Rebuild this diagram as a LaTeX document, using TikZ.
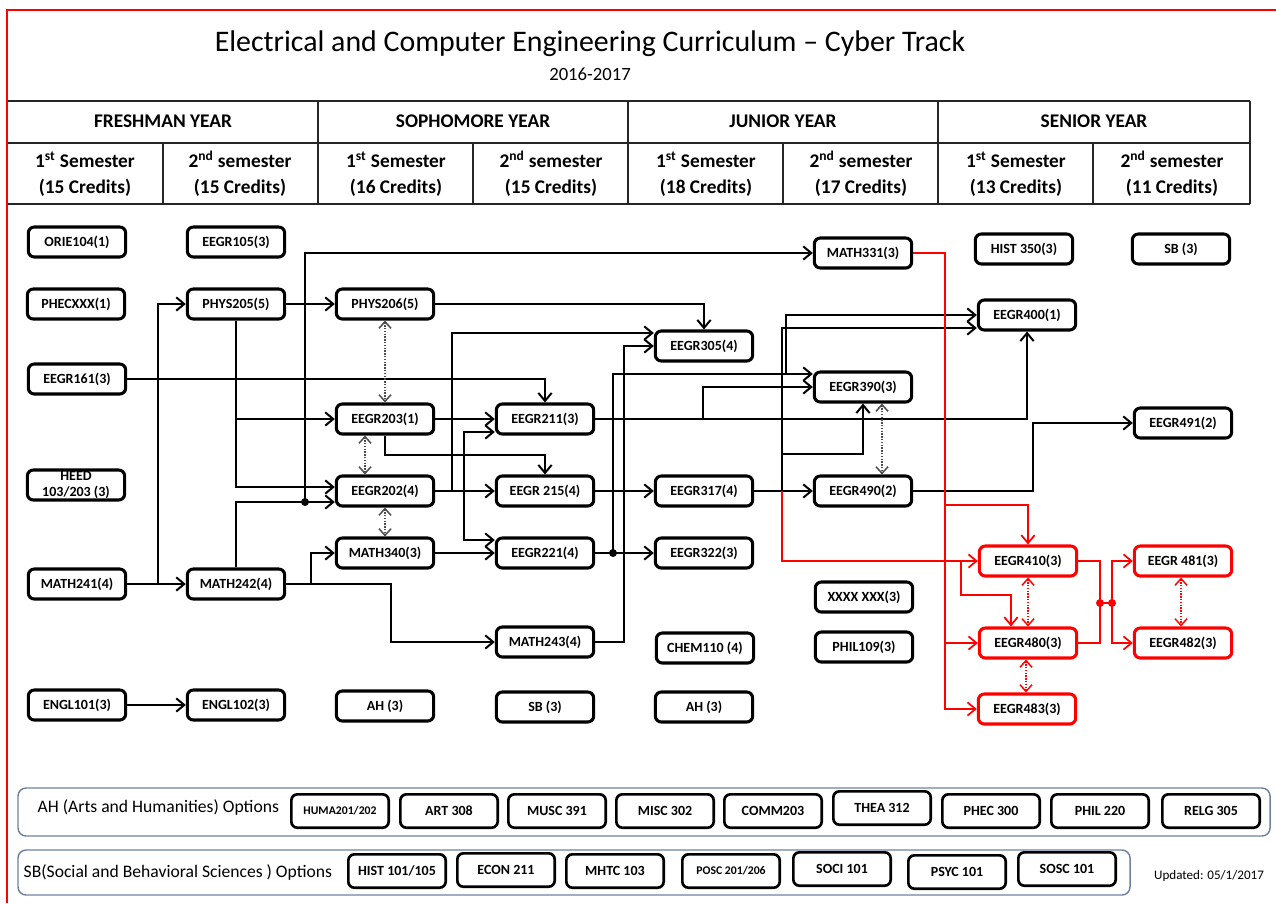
\documentclass[tikz,border=0pt]{standalone}
\usepackage{fontspec}
\setmainfont{Carlito}
\newfontfamily\bxfont{Carlito}
\usetikzlibrary{arrows.meta,calc}
\begin{document}
\begin{tikzpicture}[x=0.75pt,y=-0.75pt,
  course/.style={draw=black, line width=2.3pt, rounded corners=4.5pt, minimum width=73pt, minimum height=22.5pt, inner sep=0pt, fill=white, font=\bxfont\bfseries\fontsize{10.5}{11}\selectfont},
  redcourse/.style={course, draw=red},
  optbox/.style={draw=black, line width=2pt, rounded corners=4.5pt, minimum width=73pt, minimum height=25pt, inner sep=0pt, fill=white, font=\bxfont\bfseries\fontsize{10.5}{11}\selectfont},
  conn/.style={line width=1.5pt, -{Straight Barb[length=6pt,width=10pt]}},
  rconn/.style={conn, draw=red, line width=1.3pt},
  rline/.style={draw=red, line width=1.3pt},
  coreq/.style={densely dotted, line width=1.1pt, draw=black!70, {Straight Barb[length=5pt,width=9pt]}-{Straight Barb[length=5pt,width=9pt]}},
  rcoreq/.style={coreq, draw=red},
  jdot/.style={circle, fill=black, inner sep=0pt, minimum size=6pt},
  rdot/.style={jdot, fill=red},
  tbl/.style={line width=1.3pt, draw=black!85},
  hdr/.style={font=\bfseries\fontsize{14.5}{19.5}\selectfont, align=center},
  optlabel/.style={font=\fontsize{13.2}{15}\selectfont, anchor=west},
  optframe/.style={draw={rgb,255:red,110;green,130;blue,160}, line width=1.1pt, rounded corners=6pt}
]
\useasboundingbox (0,0) rectangle (1276,903);
% red frame
\draw[red, line width=1pt] (7,903) -- (7,10) -- (1276,10);
% title
\node[font=\fontsize{22.4}{26}\selectfont] (title) at (590,44) {Electrical and Computer Engineering Curriculum – Cyber Track};
\node[font=\fontsize{14}{16}\selectfont] (year) at (590,74) {2016-2017};
% table
\draw[tbl] (8,101) -- (1250,101);
\draw[tbl] (8,143) -- (1250,143);
\draw[tbl] (8,204) -- (1250,204);
\foreach \x in {318,628,938,1250} \draw[tbl] (\x,101) -- (\x,204);
\foreach \x in {163,473,783,1093} \draw[tbl] (\x,143) -- (\x,204);
\node[hdr] (fy) at (163,121) {FRESHMAN YEAR};
\node[hdr] (soy) at (473,121) {SOPHOMORE YEAR};
\node[hdr] (jy) at (783,121) {JUNIOR YEAR};
\node[hdr] (sey) at (1094,121) {SENIOR YEAR};
\node[hdr] (s1) at (85,174) {1\textsuperscript{st} Semester\\(15 Credits)};
\node[hdr] (s2) at (240,174) {2\textsuperscript{nd} semester\\(15 Credits)};
\node[hdr] (s3) at (396,174) {1\textsuperscript{st} Semester\\(16 Credits)};
\node[hdr] (s4) at (551,174) {2\textsuperscript{nd} semester\\(15 Credits)};
\node[hdr] (s5) at (706,174) {1\textsuperscript{st} Semester\\(18 Credits)};
\node[hdr] (s6) at (861,174) {2\textsuperscript{nd} semester\\(17 Credits)};
\node[hdr] (s7) at (1016,174) {1\textsuperscript{st} Semester\\(13 Credits)};
\node[hdr] (s8) at (1172,174) {2\textsuperscript{nd} semester\\(11 Credits)};

% courses
\node[course] (ORIE104) at (77,242) {ORIE104(1)};
\node[course] (PHECXXX) at (76,304) {PHECXXX(1)};
\node[course] (EEGR161) at (77,379) {EEGR161(3)};
\node[course, align=center, font=\bxfont\bfseries\fontsize{10.5}{12}\selectfont] (HEED) at (76,485) {HEED\\103/203 (3)};
\node[course] (MATH241) at (77,584) {MATH241(4)};
\node[course] (ENGL101) at (77,705) {ENGL101(3)};

\node[course] (EEGR105) at (236,242) {EEGR105(3)};
\node[course] (PHYS205) at (236,304) {PHYS205(5)};
\node[course] (MATH242) at (236,584) {MATH242(4)};
\node[course] (ENGL102) at (236,705) {ENGL102(3)};

\node[course] (PHYS206) at (385,304) {PHYS206(5)};
\node[course] (EEGR203) at (385,419) {EEGR203(1)};
\node[course] (EEGR202) at (385,491) {EEGR202(4)};
\node[course] (MATH340) at (385,553) {MATH340(3)};
\node[course] (AHa) at (385,706) {AH (3)};

\node[course] (EEGR211) at (545,419) {EEGR211(3)};
\node[course] (EEGR215) at (545,491) {EEGR 215(4)};
\node[course] (EEGR221) at (545,553) {EEGR221(4)};
\node[course] (MATH243) at (545,642) {MATH243(4)};
\node[course] (SBa) at (545,707) {SB (3)};

\node[course] (EEGR305) at (704,346) {EEGR305(4)};
\node[course] (EEGR317) at (704,491) {EEGR317(4)};
\node[course] (EEGR322) at (704,553) {EEGR322(3)};
\node[course] (CHEM110) at (705,648) {CHEM110 (4)};
\node[course] (AHb) at (704,707) {AH (3)};

\node[course] (MATH331) at (863,253) {MATH331(3)};
\node[course] (EEGR390) at (863,387) {EEGR390(3)};
\node[course] (EEGR490) at (863,491) {EEGR490(2)};
\node[course] (XXXX) at (864,597) {XXXX XXX(3)};
\node[course] (PHIL109) at (864,647) {PHIL109(3)};

\node[course] (HIST350) at (1024,249) {HIST 350(3)};
\node[course] (EEGR400) at (1027,315) {EEGR400(1)};
\node[redcourse] (EEGR410) at (1028,561) {EEGR410(3)};
\node[redcourse] (EEGR480) at (1028,643) {EEGR480(3)};
\node[redcourse] (EEGR483) at (1027,709) {EEGR483(3)};

\node[course] (SBb) at (1181,249) {SB (3)};
\node[course] (EEGR491) at (1183,423) {EEGR491(2)};
\node[redcourse] (EEGR481) at (1183,561) {EEGR 481(3)};
\node[redcourse] (EEGR482) at (1183,643) {EEGR482(3)};

% ---------- black connectors ----------
\draw[conn] (MATH241.east) -- (MATH242.west);
\coordinate (j1) at (158,584);
\draw[conn] (j1) |- (PHYS205.west);
\draw[conn] (PHYS205.east) -- (PHYS206.west);
\draw[conn] (PHYS205.south) |- (EEGR203.west);
\draw[conn] (PHYS205.south) |- ($(EEGR202.west)+(0,-4)$);
\draw[conn] (MATH242.north) |- ($(EEGR202.west)+(0,11)$);
\coordinate (d1) at (305,502);
\draw[conn] (d1) |- (MATH331.west);
\node[jdot] (dot1) at (d1) {};
\coordinate (j2) at (311,584);
\draw[conn] (MATH242.east) -- (j2) |- (MATH340.west);
\draw[conn] (j2) -- (391,584) |- (MATH243.west);
\draw[conn] (ENGL101.east) -- (ENGL102.west);
\draw[conn] (EEGR161.east) -| (EEGR211.north);
\draw[conn] (EEGR203.east) -- (EEGR211.west);
\draw[conn] (EEGR203.south) -- ++(0,19) -| (EEGR215.north);
\draw[conn] (PHYS206.east) -| (EEGR305.north);
\draw[conn] (EEGR202.east) -- (EEGR215.west);
\coordinate (j3) at (452,491);
\coordinate (j4) at (464,491);
\draw[conn] (j3) |- ($(EEGR305.west)+(0,-13)$);
\draw[conn] (j4) |- ($(EEGR211.west)+(0,13)$);
\draw[conn] (j4) |- ($(EEGR221.west)+(0,-13)$);
\draw[conn] (MATH340.east) -- (EEGR221.west);
\draw[conn] (EEGR221.east) -- (EEGR322.west);
\coordinate (d2) at (613,553);
\draw[conn] (d2) |- ($(EEGR390.west)+(0,-13)$);
\node[jdot] (dot2) at (d2) {};
\coordinate (j5) at (786,374);
\draw[conn] (j5) |- (EEGR400.west);
\draw[conn] (MATH243.east) -- (624,642) |- (EEGR305.west);
\draw[conn] (EEGR211.east) -| (EEGR400.south);
\coordinate (j6) at (703,419);
\draw[conn] (j6) |- (EEGR390.west);
\draw[conn] (EEGR215.east) -- (EEGR317.west);
\draw[conn] (EEGR317.east) -- (EEGR490.west);
\coordinate (j7) at (782,491);
\draw[conn] (j7) |- ($(EEGR400.west)+(0,13)$);
\draw[conn] (782,454) -| (EEGR390.south);
\draw[conn] (EEGR490.east) -- (1033,491) |- (EEGR491.west);

% co-requisites
\draw[coreq] (PHYS206.south) -- (EEGR203.north);
\draw[coreq] ($(EEGR203.south)+(-20,0)$) -- ($(EEGR202.north)+(-20,0)$);
\draw[coreq] (EEGR202.south) -- (MATH340.north);
\draw[coreq] ($(EEGR390.south)+(19,0)$) -- ($(EEGR490.north)+(19,0)$);

% ---------- red connectors ----------
\coordinate (r1) at (945,505);
\draw[rline] (MATH331.east) -- (945,253) -- (r1);
\draw[rconn] (r1) -| (EEGR410.north);
\draw[rconn] (r1) |- (EEGR480.west);
\draw[rconn] (r1) |- (EEGR483.west);
\draw[rconn] (j7) |- (EEGR410.west);
\draw[rconn] (961,561) -- (961,595) -| ($(EEGR480.north)+(-17,0)$);
\coordinate (r2) at (1100,603);
\coordinate (r3) at (1112,603);
\draw[rline] (EEGR410.east) -| (r2);
\draw[rline] (EEGR480.east) -| (r2);
\draw[rline] (r2) -- (r3);
\draw[rconn] (r3) |- (EEGR481.west);
\draw[rconn] (r3) |- (EEGR482.west);
\node[rdot] (dot3) at (r2) {};
\node[rdot] (dot4) at (r3) {};
\draw[rcoreq] (EEGR410.south) -- (EEGR480.north);
\draw[rcoreq] ($(EEGR480.south)+(-2,0)$) -- ($(EEGR483.north)+(-1,0)$);
\draw[rcoreq] ($(EEGR481.south)+(-2,0)$) -- ($(EEGR482.north)+(-2,0)$);

% ---------- options ----------
\draw[optframe] (18,788) rectangle (1270,836);
\node[optlabel] (ahlabel) at (33,807) {AH (Arts and Humanities) Options};
\node[optbox, font=\bxfont\bfseries\fontsize{8.8}{10}\selectfont] (HUMA) at (340,811) {HUMA201/202};
\node[optbox] (ART) at (449,811) {ART 308};
\node[optbox] (MUSC) at (557,811) {MUSC 391};
\node[optbox] (MISC) at (665,811) {MISC 302};
\node[optbox] (COMM) at (773,811) {COMM203};
\node[optbox] (THEA) at (882,808) {THEA 312};
\node[optbox] (PHEC) at (991,811) {PHEC 300};
\node[optbox] (PHIL) at (1100,811) {PHIL 220};
\node[optbox] (RELG) at (1211,811) {RELG 305};

\draw[optframe] (18,850) rectangle (1130,895);
\node[optlabel] (sblabel) at (19,872) {SB(Social and Behavioral Sciences ) Options};
\node[optbox] (HIST) at (397,871) {HIST 101/105};
\node[optbox] (ECON) at (506,870) {ECON 211};
\node[optbox] (MHTC) at (615,871) {MHTC 103};
\node[optbox, font=\bxfont\bfseries\fontsize{8.8}{10}\selectfont] (POSC) at (731,871) {POSC 201/206};
\node[optbox] (SOCI) at (842,869) {SOCI 101};
\node[optbox] (PSYC) at (957,872) {PSYC 101};
\node[optbox] (SOSC) at (1067,869) {SOSC 101};
\node[font=\fontsize{9.8}{11}\selectfont] (upd) at (1209,876) {Updated: 05/1/2017};
\end{tikzpicture}
\end{document}
